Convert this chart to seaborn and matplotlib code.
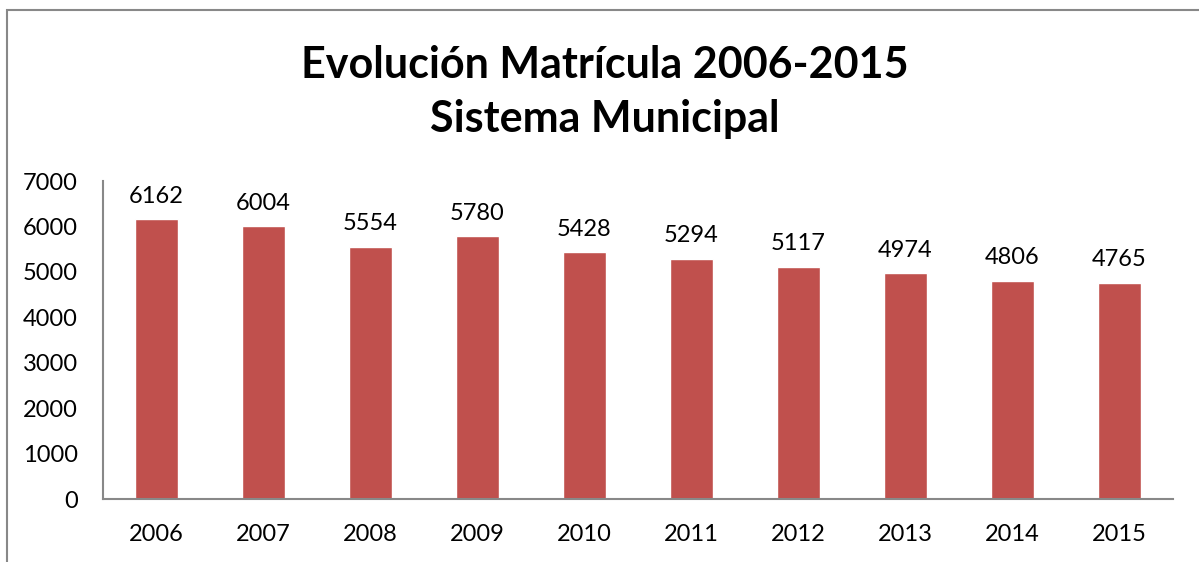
import matplotlib
matplotlib.use("Agg")
import matplotlib.pyplot as plt
import seaborn as sns
import pandas as pd
from matplotlib.patches import Rectangle

# data
years = ["2006", "2007", "2008", "2009", "2010", "2011", "2012", "2013", "2014", "2015"]
matricula = [6162, 6004, 5554, 5780, 5428, 5294, 5117, 4974, 4806, 4765]

sns.set_style("white")
plt.rcParams['font.family'] = ['Lato', 'DejaVu Sans']
plt.rcParams['text.color'] = 'black'

df = pd.DataFrame({'year': years, 'matricula': matricula})

fig = plt.figure(figsize=(11.99, 5.62), dpi=100)
ax = fig.add_axes([103 / 1199, 1 - 499 / 562, 1070 / 1199, 318 / 562])

sns.barplot(data=df, x='year', y='matricula', color='#C0504D', width=0.4,
            saturation=1, ax=ax)

# value labels above bars
for i, v in enumerate(matricula):
    ax.annotate(str(v), (i, v), xytext=(0, 9), textcoords='offset points',
                ha='center', va='bottom', fontsize=17, color='black')

ax.set_xlim(-0.5, len(years) - 0.5)
ax.set_ylim(0, 7000)
ax.set_yticks(range(0, 7001, 1000))
ax.tick_params(axis='both', length=0, labelsize=17, colors='black')
ax.tick_params(axis='y', pad=18)
ax.tick_params(axis='x', pad=18)
ax.set_xlabel('')
ax.set_ylabel('')
for s in ['top', 'right']:
    ax.spines[s].set_visible(False)
for s in ['left', 'bottom']:
    ax.spines[s].set_color('#888888')
    ax.spines[s].set_linewidth(1.5)

fig.text(605 / 1199, 1 - 92 / 562, 'Evolución Matrícula 2006-2015\nSistema Municipal',
         ha='center', va='center', fontsize=31, fontweight='bold', linespacing=1.45,
         color='black')

# outer frame of the chart area (cropped on the right and bottom)
fig.patches.append(Rectangle((7 / 1199, -0.1), 1.2, 1 - 10 / 562 + 0.1,
                             transform=fig.transFigure, fill=False,
                             edgecolor='#888888', linewidth=1.5))

fig.savefig('out.png', dpi=100)
